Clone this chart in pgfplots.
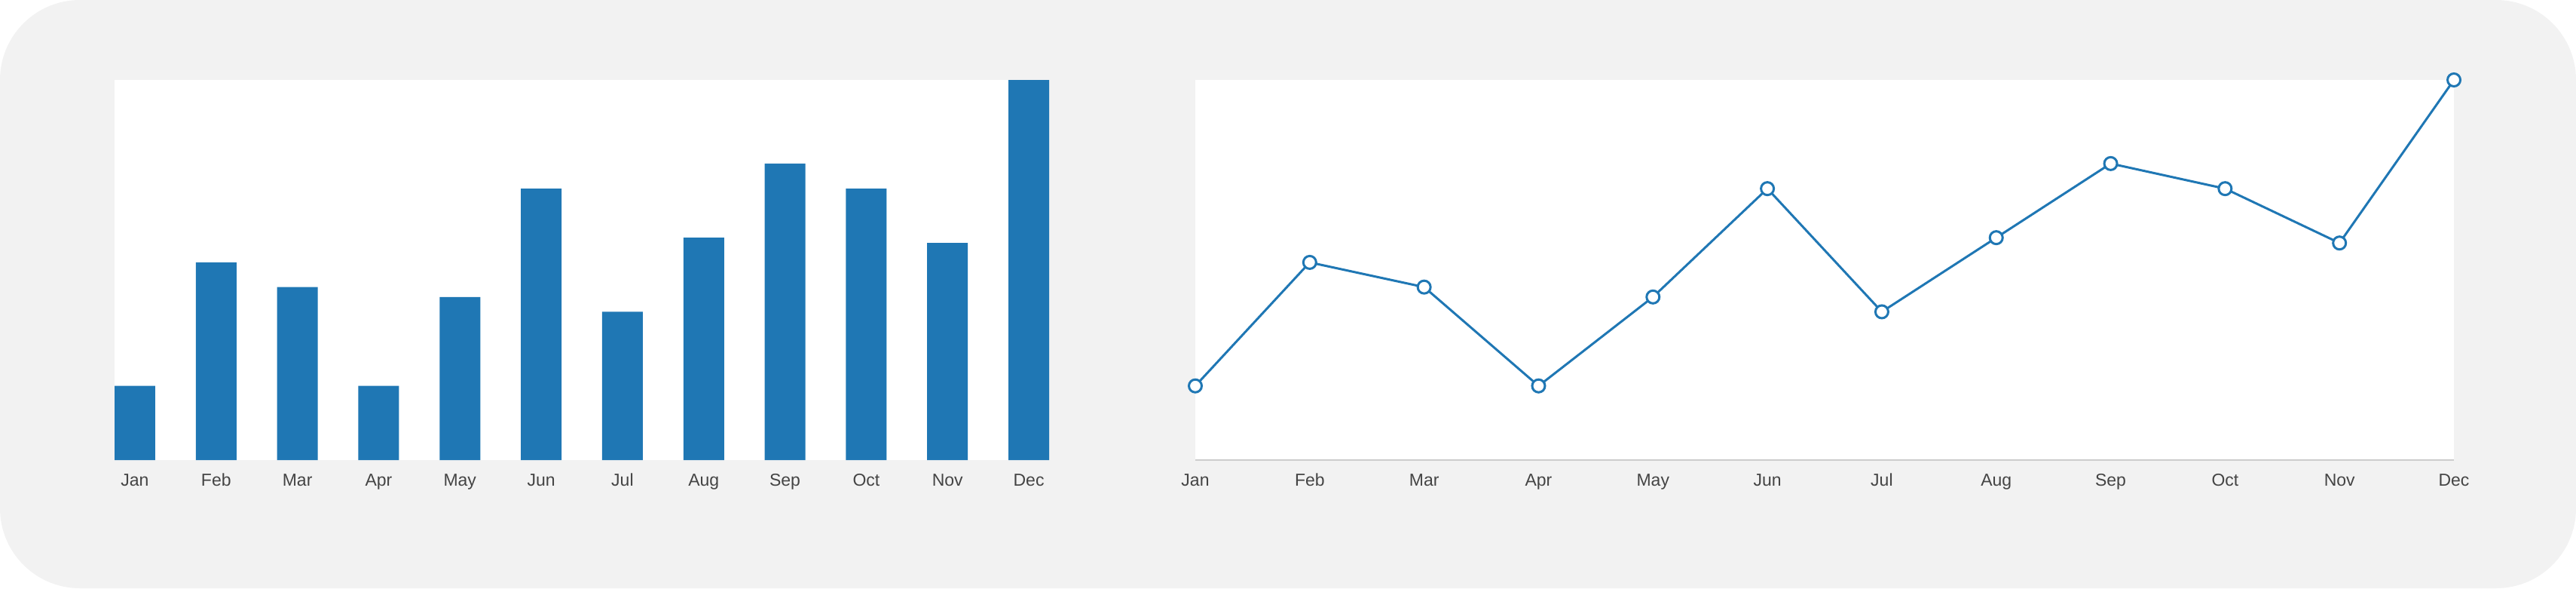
\documentclass[border=0pt]{standalone}
\usepackage{pgfplots}
\pgfplotsset{compat=1.18}
\usepackage{fontspec}
\setmainfont{Liberation Sans}
\definecolor{tabblue}{HTML}{1F77B4}
\definecolor{bggray}{HTML}{F2F2F2}
\definecolor{txtgray}{HTML}{444444}
\definecolor{axgray}{HTML}{CCCCCC}
\pgfplotstableread{
x v
0 19.5
1 52.0
2 45.5
3 19.5
4 42.9
5 71.4
6 39.0
7 58.5
8 78.0
9 71.4
10 57.1
11 100
}\data
\begin{document}
\begin{tikzpicture}
\fill[bggray, rounded corners=31.8pt] (0,0) rectangle (1025.4pt,234pt);
\pgfplotsset{
  mystyle/.style={
    scale only axis, anchor=south west,
    height=151.2pt,
    ymin=0, ymax=100,
    axis background/.style={fill=white},
    ytick=\empty,
    xtick=data,
    xticklabels={Jan,Feb,Mar,Apr,May,Jun,Jul,Aug,Sep,Oct,Nov,Dec},
    major tick length=0pt,
    xticklabel style={anchor=base, yshift=-10.2pt, inner sep=0pt, text=txtgray, font=\fontsize{6.9}{8}\selectfont},
  }
}
\begin{axis}[mystyle,
  at={(45.6pt,51pt)}, width=372pt,
  xmin=-0.25, xmax=11.25,
  axis line style={draw=none},
]
\addplot[ybar, bar width=16.2pt, fill=tabblue, draw=none] table[x=x,y=v]{\data};
\end{axis}
\begin{axis}[mystyle,
  at={(475.8pt,51pt)}, width=501pt,
  xmin=0, xmax=11,
  clip=false,
  axis y line=none,
  axis x line*=bottom,
  x axis line style={draw=axgray, line width=0.6pt, -},
]
\addplot[tabblue, line width=0.9pt, mark=*, mark size=2.55pt,
  mark options={fill=white, draw=tabblue, line width=0.9pt}] table[x=x,y=v]{\data};
\end{axis}
\end{tikzpicture}
\end{document}
